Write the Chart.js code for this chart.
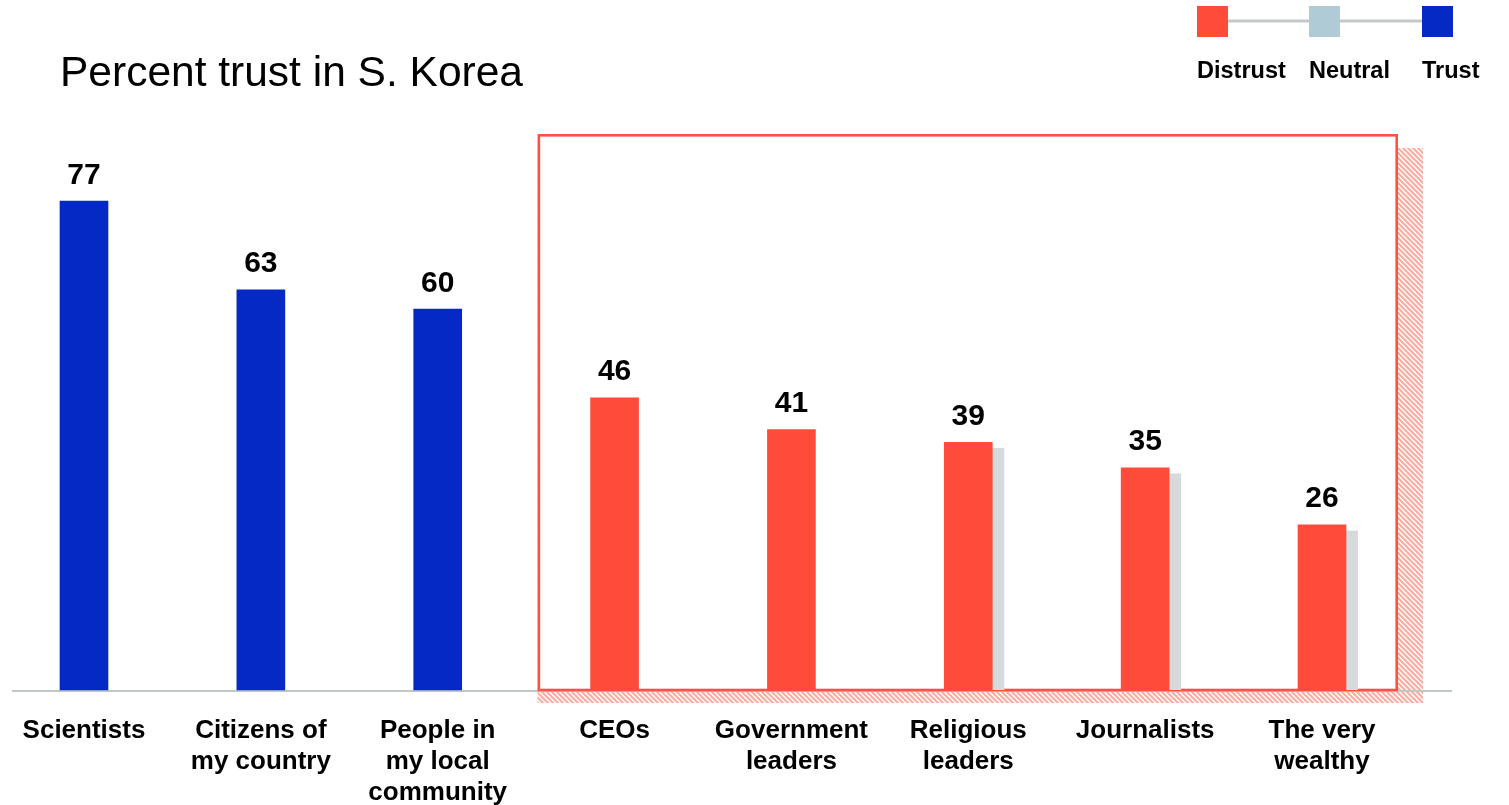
<!DOCTYPE html>
<html>
<head>
<meta charset="utf-8">
<title>Percent trust in S. Korea</title>
<script src="https://cdn.jsdelivr.net/npm/chart.js@4.4.1/dist/chart.umd.min.js"></script>
<style>
  html, body { margin: 0; padding: 0; background: #fff; }
  #wrap { position: relative; width: 1509px; height: 805px; }
</style>
</head>
<body>
<div id="wrap"><canvas id="trust-chart"></canvas></div>
<script>
// Institutions and their trust percentages
const categories = [
  ['Scientists'],
  ['Citizens of', 'my country'],
  ['People in', 'my local', 'community'],
  ['CEOs'],
  ['Government', 'leaders'],
  ['Religious', 'leaders'],
  ['Journalists'],
  ['The very', 'wealthy']
];
const trustValues = [77, 63, 60, 46, 41, 39, 35, 26];
const stance = ['trust', 'trust', 'trust', 'distrust', 'distrust', 'distrust', 'distrust', 'distrust'];
// grey "previous" marks sitting behind some of the bars
const shadowValues = [null, null, null, null, null, 38.1, 34.1, 25.1];
const legendLabels = ['Distrust', 'Neutral', 'Trust'];
const legendKeys = ['distrust', 'neutral', 'trust'];

const COLORS = {
  distrust: '#ff4b39',
  neutral: '#aecbd6',
  trust: '#0429c5',
  shadow: '#d6dadb',
  axis: '#c2c7c7',
  box: '#ff5142',
  hatch: '#ffaca2'
};
const FONT = '"Liberation Sans", Arial, Helvetica, sans-serif';

function makeHatch() {
  const tile = document.createElement('canvas');
  tile.width = 5;
  tile.height = 5;
  const c = tile.getContext('2d');
  c.strokeStyle = COLORS.hatch;
  c.lineWidth = 2.2;
  c.beginPath();
  c.moveTo(-1, -1); c.lineTo(6, 6);
  c.moveTo(-1, 4); c.lineTo(1, 6);
  c.moveTo(4, -1); c.lineTo(6, 1);
  c.stroke();
  return tile;
}

// Red outline with hatched drop shadow around the distrusted group, plus axis line
const groupBox = {
  id: 'groupBox',
  beforeDatasetsDraw(chart) {
    const { ctx, scales: { x, y } } = chart;
    const left = x.getPixelForValue(3) - 77;
    const right = x.getPixelForValue(7) + 76;
    const top = 134;
    const bottom = y.getPixelForValue(0);

    ctx.save();
    ctx.fillStyle = ctx.createPattern(makeHatch(), 'repeat');
    ctx.fillRect(left, top + 14, right - left + 25, bottom - top - 1);
    ctx.fillStyle = '#fff';
    ctx.fillRect(left, top, right - left, bottom - top);

    // baseline
    ctx.fillStyle = COLORS.axis;
    ctx.fillRect(12, bottom, 1440, 2);

    ctx.strokeStyle = COLORS.box;
    ctx.lineWidth = 2.6;
    ctx.strokeRect(left + 1.3, top + 1.3, right - left - 2.6, bottom - top - 1.3);

    // grey shadow bars
    const meta = chart.getDatasetMeta(0);
    ctx.fillStyle = COLORS.shadow;
    shadowValues.forEach((v, i) => {
      if (v == null) return;
      const bar = meta.data[i];
      const { x: cx, width } = bar.getProps(['x', 'width'], true);
      const yTop = y.getPixelForValue(v);
      ctx.fillRect(cx - width / 2 + 12, yTop, width, bottom - yTop);
    });
    ctx.restore();
  },
  afterDatasetsDraw(chart) {
    const { ctx } = chart;
    const meta = chart.getDatasetMeta(0);
    ctx.save();
    ctx.fillStyle = '#000';
    ctx.font = `bold 30px ${FONT}`;
    ctx.textAlign = 'center';
    ctx.textBaseline = 'alphabetic';
    meta.data.forEach((bar, i) => {
      const { x, y } = bar.getProps(['x', 'y'], true);
      ctx.fillText(String(trustValues[i]), x, y - 17.5);
    });
    ctx.restore();
  },
  afterDraw(chart) {
    const { ctx } = chart;
    ctx.save();
    // title
    ctx.fillStyle = '#000';
    ctx.font = `42.5px ${FONT}`;
    ctx.textAlign = 'left';
    ctx.textBaseline = 'alphabetic';
    ctx.fillText('Percent trust in S. Korea', 60, 86);

    // legend: three squares joined by a line
    const xs = [1197, 1309, 1422];
    ctx.fillStyle = '#c3c9c9';
    ctx.fillRect(xs[0] + 31, 19.5, xs[2] - xs[0] - 31, 3);
    legendKeys.forEach((k, i) => {
      ctx.fillStyle = COLORS[k];
      ctx.fillRect(xs[i], 6, 31, 31);
    });
    ctx.fillStyle = '#000';
    ctx.font = `bold 23.5px ${FONT}`;
    legendLabels.forEach((t, i) => ctx.fillText(t, xs[i], 78));
    ctx.restore();
  }
};

const ctx = document.getElementById('trust-chart');
new Chart(ctx, {
  type: 'bar',
  data: {
    labels: categories,
    datasets: [{
      data: trustValues,
      backgroundColor: stance.map(s => COLORS[s]),
      borderWidth: 0,
      barThickness: 48,
      clip: false
    }]
  },
  options: {
    responsive: true,
    maintainAspectRatio: false,
    animation: false,
    layout: { padding: { left: 84, right: 187, top: 55, bottom: 0 } },
    plugins: {
      legend: { display: false },
      tooltip: { enabled: false }
    },
    scales: {
      x: {
        offset: false,
        grid: { display: false, drawTicks: false },
        border: { display: false },
        ticks: {
          padding: 25,
          color: '#000',
          maxRotation: 0,
          autoSkip: false,
          font: { family: FONT, size: 26, weight: 'bold', lineHeight: 1.2 }
        },
        afterFit(scale) {
          // labels may spill past the plot edges; the layout padding covers them
          scale.height = 115;
          scale.paddingLeft = 0;
          scale.paddingRight = 0;
        }
      },
      y: {
        display: false,
        min: 0,
        max: 100
      }
    }
  },
  plugins: [groupBox]
});
</script>
</body>
</html>
